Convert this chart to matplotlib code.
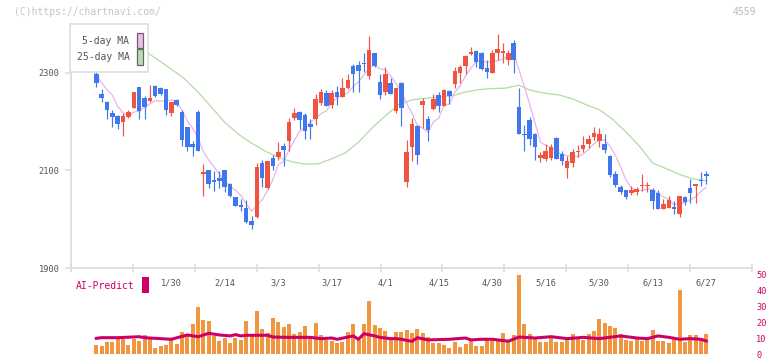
import numpy as np
import pandas as pd
import matplotlib
matplotlib.use("Agg")
import matplotlib.pyplot as plt
from matplotlib.patches import Rectangle

W, H = 772, 361

# daily candles, index 0 = 1/8 ... index 115 = 6/27
opens = [2309, 2297, 2257, 2240, 2218, 2211, 2199, 2210, 2228, 2271,
         2249, 2242, 2273, 2270, 2267, 2218, 2245, 2221, 2189, 2154,
         2220, 2093, 2102, 2081, 2085, 2102, 2073, 2046, 2030, 2023,
         1996, 2005, 2115, 2064, 2126, 2128, 2150, 2161, 2208, 2220,
         2214, 2196, 2206, 2238, 2258, 2234, 2260, 2251, 2269, 2314,
         2316, 2321, 2294, 2341, 2282, 2261, 2279, 2223, 2279, 2076,
         2148, 2191, 2234, 2206, 2227, 2254, 2233, 2264, 2278, 2299,
         2315, 2338, 2346, 2342, 2310, 2299, 2342, 2342, 2327, 2362,
         2230, 2175, 2203, 2175, 2126, 2124, 2126, 2167, 2134, 2105,
         2115, 2137, 2145, 2155, 2169, 2161, 2154, 2130, 2093, 2066,
         2061, 2054, 2055, 2068, 2068, 2061, 2054, 2020, 2023, 2024,
         2011, 2046, 2064, 2068, 2081, 2093]
highs = [2311, 2302, 2267, 2242, 2225, 2214, 2217, 2225, 2262, 2271,
         2252, 2275, 2275, 2272, 2268, 2240, 2247, 2225, 2190, 2161,
         2225, 2114, 2102, 2098, 2098, 2102, 2075, 2046, 2042, 2039,
         2006, 2115, 2122, 2120, 2132, 2158, 2156, 2207, 2228, 2222,
         2217, 2206, 2256, 2268, 2266, 2266, 2274, 2290, 2297, 2318,
         2325, 2342, 2376, 2342, 2297, 2312, 2290, 2269, 2281, 2162,
         2208, 2193, 2249, 2212, 2256, 2262, 2267, 2266, 2312, 2317,
         2336, 2353, 2347, 2344, 2326, 2348, 2379, 2362, 2348, 2368,
         2269, 2193, 2210, 2176, 2138, 2154, 2154, 2168, 2139, 2129,
         2145, 2153, 2170, 2173, 2189, 2187, 2175, 2131, 2098, 2071,
         2061, 2068, 2066, 2093, 2076, 2064, 2059, 2042, 2047, 2037,
         2047, 2048, 2083, 2072, 2097, 2098]
lows = [2309, 2271, 2240, 2206, 2189, 2186, 2171, 2208, 2228, 2206,
        2206, 2240, 2250, 2254, 2213, 2211, 2233, 2150, 2139, 2129,
        2139, 2048, 2064, 2057, 2064, 2056, 2046, 2028, 2016, 1992,
        1981, 2003, 2066, 2062, 2100, 2122, 2110, 2141, 2204, 2186,
        2165, 2165, 2193, 2234, 2232, 2228, 2234, 2250, 2268, 2260,
        2262, 2303, 2288, 2313, 2247, 2255, 2256, 2218, 2192, 2066,
        2120, 2114, 2187, 2160, 2225, 2220, 2232, 2236, 2269, 2279,
        2297, 2337, 2312, 2307, 2290, 2299, 2327, 2320, 2316, 2301,
        2175, 2139, 2153, 2121, 2117, 2120, 2121, 2123, 2111, 2085,
        2107, 2127, 2138, 2146, 2163, 2148, 2135, 2086, 2066, 2052,
        2042, 2050, 2049, 2057, 2056, 2021, 2020, 2020, 2023, 2011,
        2005, 2030, 2033, 2033, 2069, 2073]
closes = [2310, 2279, 2249, 2225, 2209, 2196, 2211, 2220, 2262, 2223,
          2230, 2249, 2253, 2256, 2225, 2240, 2235, 2162, 2148, 2148,
          2141, 2097, 2073, 2076, 2078, 2066, 2048, 2028, 2025, 1994,
          1988, 2107, 2085, 2119, 2110, 2138, 2143, 2199, 2218, 2204,
          2182, 2189, 2247, 2261, 2233, 2258, 2251, 2269, 2286, 2298,
          2305, 2319, 2347, 2315, 2255, 2298, 2257, 2269, 2228, 2138,
          2195, 2132, 2242, 2184, 2247, 2233, 2265, 2253, 2305, 2312,
          2335, 2343, 2323, 2308, 2302, 2342, 2349, 2344, 2340, 2327,
          2175, 2172, 2165, 2148, 2132, 2141, 2148, 2124, 2119, 2119,
          2138, 2141, 2153, 2165, 2177, 2175, 2143, 2091, 2071, 2055,
          2045, 2061, 2062, 2071, 2071, 2037, 2020, 2031, 2039, 2022,
          2047, 2035, 2054, 2072, 2078, 2089]

date_pos = [15, 25, 35, 45, 55, 65, 75, 85, 95, 105, 115]
date_labels = ["1/30", "2/14", "3/3", "3/17", "4/1", "4/15",
               "4/30", "5/16", "5/30", "6/13", "6/27"]

# 25-day MA
ma25_idx = [8, 10, 12, 15, 17.5, 20, 22.5, 25, 27.5, 30, 32.5, 35, 37.5,
            40, 42.5, 45, 47.5, 50, 52.5, 55, 57.5, 60, 62.5, 65, 67.5,
            70, 72.5, 75, 77.5, 80, 82, 85, 87.5, 90, 92.5, 95, 97.5,
            100, 102.5, 105, 107.5, 110, 112.5, 115]
ma25_val = [2360, 2345, 2331, 2308, 2288, 2261, 2230, 2199, 2175, 2156,
            2140, 2127, 2118, 2113, 2114, 2124, 2136, 2158, 2187, 2212,
            2235, 2245, 2248, 2251, 2253, 2261, 2266, 2268, 2269, 2275,
            2265, 2258, 2255, 2247, 2235, 2225, 2205, 2179, 2150, 2115,
            2104, 2092, 2083, 2079]

# volume bars start at candle 1
volume = [5.6, 5.0, 7.4, 7.4, 9.8, 9.6, 5.6, 9.6, 8.1, 11.9,
          9.2, 4.0, 5.0, 5.6, 9.2, 6.5, 13.8, 11.9, 18.8, 29.5,
          21.5, 20.6, 11.2, 8.2, 10.1, 7.0, 9.7, 8.5, 20.7, 12.4,
          27.0, 15.7, 13.0, 22.5, 20.2, 17.1, 18.9, 12.5, 13.6, 17.5,
          10.3, 19.4, 11.8, 9.0, 8.2, 7.0, 7.7, 13.6, 18.8, 8.7,
          18.8, 33.3, 18.1, 16.5, 14.4, 9.5, 13.6, 14.0, 14.7, 13.1,
          15.6, 13.3, 10.5, 6.9, 6.9, 5.4, 4.0, 7.3, 4.6, 6.2,
          7.9, 5.0, 5.0, 8.7, 8.1, 8.1, 13.1, 7.2, 11.9, 49.5,
          18.8, 12.5, 10.2, 7.4, 7.4, 9.7, 7.4, 7.4, 8.5, 12.5,
          9.7, 8.7, 12.5, 14.3, 22.0, 19.4, 17.6, 16.2, 12.3, 8.7,
          8.1, 10.2, 8.3, 10.4, 15.0, 8.3, 8.3, 7.0, 10.4, 40.2,
          7.5, 11.9, 11.9, 10.0, 12.5]

ai_idx = [1, 2, 5, 9, 10, 12, 15, 18, 20, 22, 24, 26, 27, 28, 29, 33, 34,
          37, 41, 43, 45, 46, 48, 49, 50, 51, 53, 54, 56, 57, 58, 60, 61,
          63, 67, 70, 71, 73, 75, 76, 78, 80, 83, 86, 89, 92, 95, 99, 102,
          104, 106, 108, 110, 112, 114, 115]
ai_val = [9.8, 10.2, 10.2, 10.8, 10.2, 9.8, 9.2, 11.9, 10.8, 12.9, 11.9,
          11.3, 12.1, 11.3, 11.7, 11.7, 10.6, 10.4, 10.4, 9.6, 10.0, 9.2,
          10.6, 11.3, 9.2, 12.7, 11.3, 10.4, 9.6, 9.6, 9.2, 7.9, 10.2,
          8.8, 9.2, 10.0, 8.8, 9.2, 9.2, 8.8, 8.0, 10.6, 10.0, 10.8, 9.6,
          10.4, 9.6, 11.3, 10.0, 9.6, 11.3, 10.4, 9.2, 9.6, 9.2, 8.1]

RED = "#F0533F"
BLUE = "#3F78EE"
ORANGE = "#F1963F"
CRIMSON = "#CC0066"
PINK = "#E8B4EC"
GREEN = "#B2DBA6"
GRID = "#DDDDDD"
MONO = "DejaVu Sans Mono"


def fx(x):
    return x / W


def fy(y):
    return 1 - y / H


idx = np.arange(len(closes))
o = np.array(opens, dtype=float)
c = np.array(closes, dtype=float)
hi = np.array(highs, dtype=float)
lo = np.array(lows, dtype=float)
up = c >= o
ma5 = pd.Series(c).rolling(5, min_periods=1).mean()

xlim = (-3.74, 123.55)

fig = plt.figure(figsize=(W / 100, H / 100), dpi=100)
ax = fig.add_axes([fx(71), fy(268), (752 - 71) / W, (268 - 24) / H])
ax.set_xlim(*xlim)
ax.set_ylim(1900, 2400.5)

ax.plot(ma25_idx, ma25_val, color=GREEN, lw=0.9, zorder=1)
ax.plot(idx, ma5, color=PINK, lw=0.9, zorder=1)

colors = np.where(up, RED, BLUE)
ax.vlines(idx, lo, hi, colors=colors, lw=0.85, zorder=2)
body_lo = np.minimum(o, c)
body_h = np.maximum(np.abs(c - o), 2.2)
ax.bar(idx, body_h, bottom=body_lo, width=0.85, color=colors, zorder=3)

for s in ["top", "right"]:
    ax.spines[s].set_visible(False)
for s in ["left", "bottom"]:
    ax.spines[s].set_color(GRID)
    ax.spines[s].set_linewidth(1.3)

ax.set_yticks([1900, 2100, 2300])
ax.tick_params(axis="y", length=4.3, width=1.1, color=GRID, pad=4,
               labelsize=6.2, labelcolor="#555555")
ax.set_xticks(date_pos)
ax.set_xticklabels(date_labels)
ax.tick_params(axis="x", which="major", length=0, pad=7.5,
               labelsize=6.2, labelcolor="#555555")
ax.set_xticks(np.linspace(xlim[0], xlim[1], 12), minor=True)
ax.tick_params(axis="x", which="minor", length=6, width=1.1, color=GRID,
               direction="inout")
for t in ax.get_xticklabels() + ax.get_yticklabels():
    t.set_family(MONO)

# volume / AI panel
ax2 = fig.add_axes([fx(71), fy(356), (752 - 71) / W, (356 - 274) / H])
ax2.set_xlim(*xlim)
ax2.set_ylim(0, 51.25)
ax2.patch.set_alpha(0)
ax2.bar(idx[1:], volume, width=0.75, color=ORANGE, zorder=1)
ax2.plot(ai_idx, ai_val, color=CRIMSON, lw=2.2, zorder=2)
for s in ax2.spines.values():
    s.set_visible(False)
ax2.set_xticks([])
ax2.set_ylim(-1.25, 50)
ax2.yaxis.tick_right()
ax2.set_yticks([0, 10, 20, 30, 40, 50])
ax2.tick_params(axis="y", length=0, pad=3, labelsize=6.2, labelcolor=CRIMSON)
for t in ax2.get_yticklabels():
    t.set_family(MONO)

# texts
fig.text(fx(14), fy(12), "(C)https://chartnavi.com/", color="#C4C4C4",
         fontsize=7, family=MONO, va="center", ha="left")
fig.text(fx(756), fy(12), "4559", color="#BBBBBB", fontsize=7,
         family=MONO, va="center", ha="right")
fig.text(fx(76), fy(286), "AI-Predict", color=CRIMSON, fontsize=7,
         family=MONO, va="center", ha="left")
fig.patches.append(Rectangle((fx(142.3), fy(292.7)), 6.4 / W, 15.4 / H,
                             transform=fig.transFigure, facecolor=CRIMSON,
                             edgecolor="none", figure=fig))

# legend box
fig.patches.append(Rectangle((fx(70), fy(72)), 78 / W, 48 / H,
                             transform=fig.transFigure, facecolor="white",
                             edgecolor=GRID, lw=1.2, figure=fig, zorder=5))
for label, col, yc in [("5-day MA", "#EEBBEE", 40.5), ("25-day MA", "#BBDDAA", 57)]:
    fig.text(fx(129.5), fy(yc), label, color="#555555", fontsize=7,
             family=MONO, va="center", ha="right", zorder=6)
    fig.patches.append(Rectangle((fx(136.7), fy(yc + 7.5)), 6 / W, 15 / H,
                                 transform=fig.transFigure, facecolor=col,
                                 edgecolor="#666666", lw=0.9, figure=fig,
                                 zorder=6))

fig.savefig("out.png", dpi=100)
